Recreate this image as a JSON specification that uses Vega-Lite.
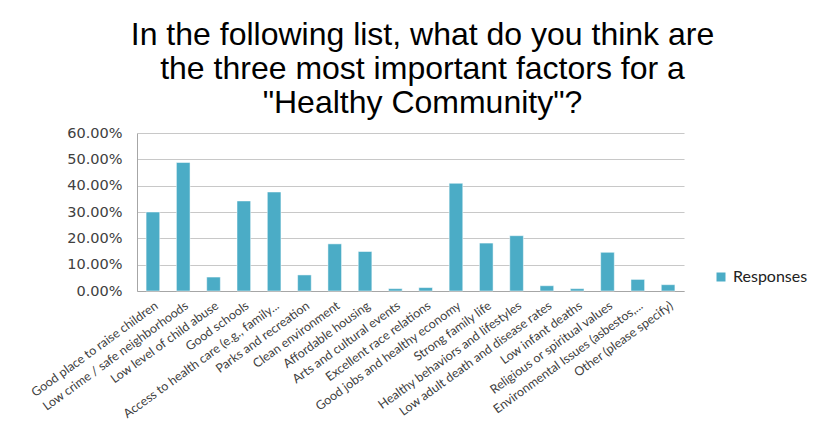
{
  "$schema": "https://vega.github.io/schema/vega-lite/v6.json",
  "autosize": "none",
  "width": 547,
  "height": 158,
  "padding": {"left": 137, "top": 133, "right": 137, "bottom": 144},
  "background": "white",
  "title": {
    "text": ["In the following list, what do you think are", "the three most important factors for a", "\"Healthy Community\"?"],
    "font": "Liberation Sans",
    "fontSize": 32,
    "fontWeight": "normal",
    "color": "#000000",
    "lineHeight": 34,
    "anchor": "middle",
    "dx": 12,
    "offset": 5
  },
  "data": {
    "values": [
      {"factor": "Good place to raise children", "value": 0.300, "series": "Responses"},
      {"factor": "Low crime / safe neighborhoods", "value": 0.488, "series": "Responses"},
      {"factor": "Low level of child abuse", "value": 0.053, "series": "Responses"},
      {"factor": "Good schools", "value": 0.342, "series": "Responses"},
      {"factor": "Access to health care (e.g., family...", "value": 0.376, "series": "Responses"},
      {"factor": "Parks and recreation", "value": 0.061, "series": "Responses"},
      {"factor": "Clean environment", "value": 0.179, "series": "Responses"},
      {"factor": "Affordable housing", "value": 0.150, "series": "Responses"},
      {"factor": "Arts and cultural events", "value": 0.009, "series": "Responses"},
      {"factor": "Excellent race relations", "value": 0.013, "series": "Responses"},
      {"factor": "Good jobs and healthy economy", "value": 0.409, "series": "Responses"},
      {"factor": "Strong family life", "value": 0.182, "series": "Responses"},
      {"factor": "Healthy behaviors and lifestyles", "value": 0.210, "series": "Responses"},
      {"factor": "Low adult death and disease rates", "value": 0.020, "series": "Responses"},
      {"factor": "Low infant deaths", "value": 0.009, "series": "Responses"},
      {"factor": "Religious or spiritual values", "value": 0.147, "series": "Responses"},
      {"factor": "Environmental Issues (asbestos,...", "value": 0.044, "series": "Responses"},
      {"factor": "Other (please specify)", "value": 0.024, "series": "Responses"}
    ]
  },
  "mark": {"type": "bar", "stroke": "#ffffff", "strokeWidth": 0.5},
  "encoding": {
    "x": {
      "field": "factor",
      "type": "nominal",
      "sort": null,
      "title": null,
      "scale": {"paddingInner": 0.55, "paddingOuter": 0.3},
      "axis": {
        "labelAngle": -36,
        "labelFont": "Lato",
        "labelFontSize": 12.5,
        "labelColor": "#404040",
        "labelLimit": 300,
        "domainColor": "#a6a6a6",
        "ticks": false,
        "labelPadding": 8
      }
    },
    "y": {
      "field": "value",
      "type": "quantitative",
      "title": null,
      "scale": {"domain": [0, 0.6]},
      "axis": {
        "format": ".2%",
        "values": [0, 0.1, 0.2, 0.3, 0.4, 0.5, 0.6],
        "labelFont": "DejaVu Sans",
        "labelFontSize": 14.5,
        "labelColor": "#404040",
        "gridColor": "#c8c8c8",
        "gridWidth": 1.2,
        "domain": true,
        "domainColor": "#a6a6a6",
        "ticks": false,
        "labelPadding": 15
      }
    },
    "color": {
      "field": "series",
      "type": "nominal",
      "scale": {"range": ["#4bacc6"]},
      "legend": {
        "title": null,
        "orient": "none",
        "legendX": 576,
        "legendY": 136,
        "symbolType": "square",
        "symbolSize": 110,
        "labelFont": "Lato",
        "labelFontSize": 16,
        "labelColor": "#222222"
      }
    }
  },
  "config": {"view": {"stroke": null}}
}
